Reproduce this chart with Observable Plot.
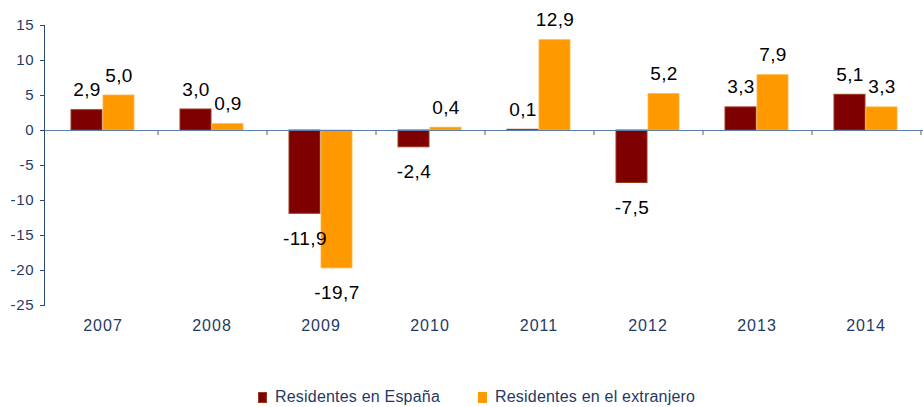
<!DOCTYPE html>
<html>
<head>
<meta charset="utf-8">
<script src="https://cdn.jsdelivr.net/npm/d3@7"></script>
<script src="https://cdn.jsdelivr.net/npm/@observablehq/plot@0.6"></script>
<style>
  body { margin: 0; background: #fff; font-family: "Liberation Sans", Arial, sans-serif; }
  #legend { display: flex; align-items: center; height: 20px; margin-top: 27px; padding-left: 258px; font-size: 16px; letter-spacing: 0.2px; color: #1f3a64; }
  .item { display: flex; align-items: center; margin-right: 38px; }
  .sw { width: 9px; height: 11px; margin-right: 8px; box-sizing: border-box; }
  #chart g[aria-label="x-axis tick label"] text { letter-spacing: 1px; }
  #chart g[aria-label="y-axis tick label"] text { letter-spacing: 0.8px; }
  #chart g[aria-label="text"] text { letter-spacing: 0.4px; }
</style>
</head>
<body>
<div id="chart"></div>
<div id="legend"></div>
<script>
const years = ["2007", "2008", "2009", "2010", "2011", "2012", "2013", "2014"];
const seriesNames = ["Residentes en España", "Residentes en el extranjero"];
const espana = [2.9, 3.0, -11.9, -2.4, 0.1, -7.5, 3.3, 5.1];
const extranjero = [5.0, 0.9, -19.7, 0.4, 12.9, 5.2, 7.9, 3.3];
const yTicks = [-25, -20, -15, -10, -5, 0, 5, 10, 15];
const colors = ["#7f0000", "#ff9900"];

const dataE = years.map((y, i) => ({year: y, value: espana[i]}));
const dataX = years.map((y, i) => ({year: y, value: extranjero[i]}));
const fmt = v => v.toFixed(1).replace(".", ",");

const axisColor = "#2b4a74";
const textColor = "#1f3a64";

function labels(data, dx) {
  return [
    Plot.text(data.filter(d => d.value >= 0), {x: "year", y: "value", text: d => fmt(d.value), dx, dy: -20, fontSize: 19, fill: "#000", lineAnchor: "middle"}),
    Plot.text(data.filter(d => d.value < 0), {x: "year", y: "value", text: d => fmt(d.value), dx, dy: 25, fontSize: 19, fill: "#000", lineAnchor: "middle"})
  ];
}

const plot = Plot.plot({
  width: 923,
  height: 360,
  marginLeft: 44,
  marginRight: 0,
  marginTop: 25,
  marginBottom: 55,
  style: {fontFamily: "'Liberation Sans', Arial, sans-serif", background: "#fff"},
  x: {domain: years, padding: 0, label: null},
  y: {domain: [-25, 15], label: null},
  marks: [
    Plot.barY(dataE, {x: "year", y: "value", fill: colors[0], stroke: "#9a3b1c", strokeWidth: 1, insetLeft: 23, insetRight: 55}),
    Plot.barY(dataX, {x: "year", y: "value", fill: colors[1], stroke: "#ffb340", strokeWidth: 0.8, insetLeft: 55, insetRight: 23}),
    Plot.ruleY([0], {stroke: "#5a7ea8", strokeWidth: 1.2}),
    Plot.ruleX(years, {x: d => d, dx: 55, y1: 0, y2: -0.7, stroke: "#5a7ea8", strokeWidth: 1.2}),
    Plot.frame({anchor: "left", stroke: axisColor, strokeWidth: 1}),
    Plot.axisY({ticks: yTicks, tickSize: 4, tickPadding: 6, fontSize: 15, stroke: axisColor, color: textColor, tickFormat: d => String(d)}),
    Plot.axisX({tickSize: 0, tickPadding: 14, fontSize: 16, color: textColor}),
    ...labels(dataE, -16),
    ...labels(dataX, 16)
  ]
});
document.getElementById("chart").appendChild(plot);

const legend = document.getElementById("legend");
seriesNames.forEach((name, i) => {
  const item = document.createElement("div");
  item.className = "item";
  const sw = document.createElement("span");
  sw.className = "sw";
  sw.style.background = colors[i];
  if (i === 0) sw.style.border = "1px solid #9a3b1c";
  item.appendChild(sw);
  const t = document.createElement("span");
  t.textContent = name;
  item.appendChild(t);
  legend.appendChild(item);
});
</script>
</body>
</html>
